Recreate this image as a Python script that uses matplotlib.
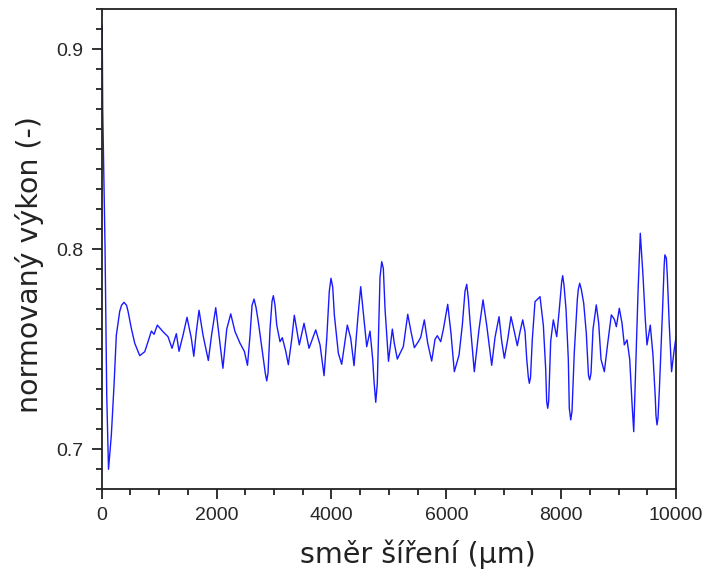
import matplotlib
matplotlib.use("Agg")
import matplotlib.pyplot as plt
from matplotlib.ticker import MultipleLocator

# position along propagation (um) and normalised power
x_um = [0, 8, 17, 57, 87, 118, 167, 214, 254, 313, 345, 388, 432, 458, 515,
        575, 662, 749, 806, 864, 911, 968, 1067, 1154, 1224, 1299, 1346,
        1415, 1485, 1560, 1603, 1647, 1694, 1764, 1856, 1912, 1985, 2042,
        2110, 2176, 2246, 2321, 2408, 2483, 2538, 2582, 2617, 2652, 2686,
        2726, 2814, 2848, 2873, 2895, 2930, 2965, 2988, 3017, 3047, 3104,
        3144, 3204, 3249, 3308, 3353, 3440, 3522, 3609, 3726, 3801, 3871,
        3918, 3962, 3992, 4022, 4050, 4120, 4178, 4276, 4335, 4393, 4457,
        4509, 4555, 4614, 4671, 4718, 4741, 4771, 4798, 4845, 4875, 4903,
        4933, 4993, 5060, 5094, 5147, 5194, 5251, 5328, 5385, 5443, 5512,
        5554, 5617, 5676, 5745, 5803, 5843, 5902, 5948, 6024, 6081, 6139,
        6221, 6278, 6325, 6355, 6383, 6412, 6487, 6569, 6639, 6703, 6790,
        6848, 6918, 6964, 7010, 7069, 7126, 7184, 7236, 7283, 7330, 7370,
        7400, 7428, 7445, 7466, 7497, 7544, 7631, 7689, 7730, 7747, 7765,
        7782, 7817, 7863, 7922, 7967, 8009, 8026, 8049, 8084, 8124, 8141,
        8166, 8188, 8228, 8281, 8298, 8322, 8350, 8392, 8437, 8475, 8496,
        8519, 8554, 8611, 8653, 8693, 8751, 8810, 8873, 8925, 8960, 9012,
        9059, 9099, 9146, 9193, 9233, 9263, 9308, 9337, 9377, 9424, 9464,
        9494, 9551, 9598, 9638, 9650, 9668, 9685, 9708, 9765, 9793, 9805,
        9831, 9847, 9882, 9922, 9962, 10000]
power = [0.912, 0.912, 0.870, 0.802, 0.727, 0.690, 0.707, 0.732, 0.757,
         0.769, 0.772, 0.7735, 0.772, 0.769, 0.7605, 0.753, 0.7468, 0.7488,
         0.7538, 0.7591, 0.7575, 0.7621, 0.7588, 0.7563, 0.7505, 0.7578,
         0.749, 0.757, 0.766, 0.7555, 0.7465, 0.7588, 0.7695, 0.757, 0.7444,
         0.757, 0.7708, 0.757, 0.7405, 0.760, 0.7677, 0.7588, 0.753, 0.749,
         0.742, 0.757, 0.772, 0.7751, 0.771, 0.7638, 0.745, 0.738, 0.7342,
         0.738, 0.760, 0.774, 0.7768, 0.772, 0.7621, 0.7538, 0.7558, 0.749,
         0.7423, 0.755, 0.767, 0.7522, 0.763, 0.7505, 0.7597, 0.7522,
         0.7368, 0.7555, 0.779, 0.7855, 0.781, 0.7672, 0.748, 0.7425,
         0.7621, 0.7555, 0.7418, 0.765, 0.7813, 0.768, 0.7513, 0.7591,
         0.745, 0.734, 0.7235, 0.733, 0.786, 0.7938, 0.7905, 0.770, 0.744,
         0.7601, 0.753, 0.7451, 0.748, 0.7513, 0.7675, 0.7588, 0.7508,
         0.7538, 0.756, 0.7647, 0.753, 0.7441, 0.755, 0.7568, 0.7538, 0.760,
         0.7725, 0.758, 0.7388, 0.7471, 0.762, 0.779, 0.7825, 0.7755, 0.764,
         0.7388, 0.760, 0.7747, 0.762, 0.742, 0.756, 0.7663, 0.754, 0.7455,
         0.755, 0.7663, 0.7588, 0.7518, 0.7588, 0.7647, 0.7588, 0.745,
         0.736, 0.733, 0.736, 0.755, 0.7738, 0.7763, 0.762, 0.740, 0.724,
         0.7205, 0.724, 0.754, 0.7647, 0.7563, 0.770, 0.784, 0.7868, 0.782,
         0.770, 0.745, 0.7205, 0.7147, 0.719, 0.7485, 0.775, 0.780, 0.7830,
         0.780, 0.773, 0.758, 0.737, 0.7347, 0.738, 0.760, 0.7722, 0.763,
         0.745, 0.7388, 0.753, 0.7672, 0.765, 0.7613, 0.7705, 0.763, 0.7522,
         0.7547, 0.745, 0.723, 0.7088, 0.750, 0.778, 0.808, 0.787, 0.765,
         0.7522, 0.7621, 0.747, 0.726, 0.717, 0.7122, 0.7155, 0.729, 0.770,
         0.792, 0.7972, 0.7955, 0.787, 0.762, 0.7388, 0.7485, 0.7563]

fig = plt.figure(figsize=(7.06, 5.78), dpi=100)
ax = fig.add_axes([0.1441, 0.1535, 0.8135, 0.8304])

ax.plot(x_um, power, color="#1a1aff", linewidth=1.0)

ax.set_xlim(0, 10000)
ax.set_ylim(0.68, 0.92)
ax.xaxis.set_major_locator(MultipleLocator(2000))
ax.xaxis.set_minor_locator(MultipleLocator(500))
ax.yaxis.set_major_locator(MultipleLocator(0.1))
ax.yaxis.set_minor_locator(MultipleLocator(0.01))

for s in ax.spines.values():
    s.set_linewidth(1.3)
    s.set_color("#222222")

ax.tick_params(which="major", length=7, width=1.3, pad=6, color="#222222",
               labelsize=14, labelcolor="#262626")
ax.tick_params(which="minor", length=4.3, width=1.3, color="#222222")
for lab in ax.get_xticklabels() + ax.get_yticklabels():
    lab.set_family("Liberation Sans")

ax.set_xlabel("směr šíření (μm)", fontsize=20.5, family="DejaVu Sans",
              color="#222222", labelpad=11)
ax.set_ylabel("normovaný výkon (-)", fontsize=20.5, family="DejaVu Sans",
              color="#222222", labelpad=9)
# labels sit a bit off-centre in the original
ax.xaxis.label.set_x(0.551)
ax.yaxis.label.set_y(0.469)

fig.savefig("out.png", dpi=100)
